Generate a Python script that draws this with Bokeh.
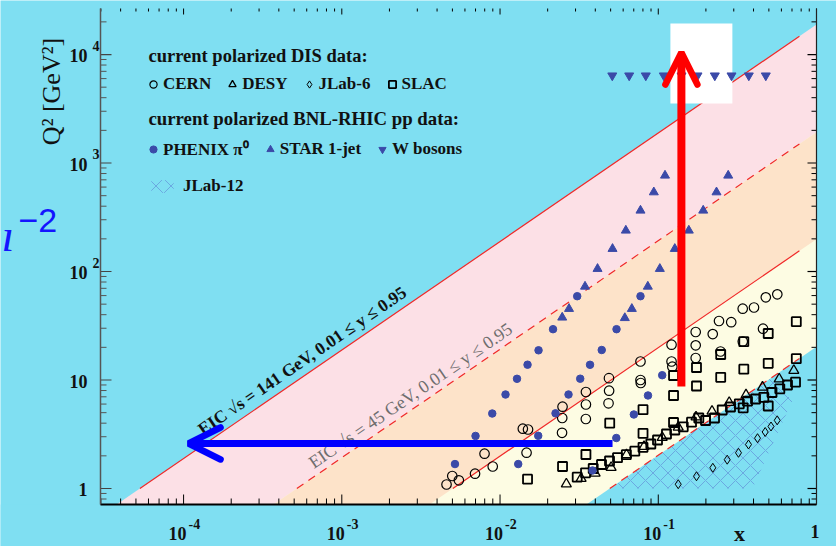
import math
import numpy as np
from bokeh.plotting import figure
from bokeh.models import (Range1d, Label, LabelSet, ColumnDataSource,
                          Legend, LegendItem, Arrow, OpenHead)
from bokeh.embed import file_html
from bokeh.resources import INLINE
from bokeh.core.properties import value

# ---------------- data ----------------
X_MIN, X_MAX = 2.985e-5, 1.0
Q2_MIN, Q2_MAX = 0.712, 26560.0

SQRT_S = [141.0, 45.0]          # EIC energies (GeV)
Y_LO, Y_HI = 0.01, 0.95         # inelasticity range
X_LINE_END = 0.78

cern_x = [0.00459, 0.00499, 0.00549, 0.00695, 0.00798, 0.00899, 0.01393, 0.01503, 0.01471,
          0.02465, 0.02472, 0.02483, 0.03485, 0.0349, 0.0349, 0.04849, 0.0489, 0.0488,
          0.0772, 0.0772, 0.0775, 0.1213, 0.1213, 0.1227, 0.1724, 0.1724, 0.1724, 0.2209,
          0.242, 0.2891, 0.2474, 0.3417, 0.4027, 0.4782, 0.5653, 0.4592, 0.342]
cern_q2 = [1.088, 1.304, 1.19, 1.369, 2.093, 1.595, 3.557, 3.498, 2.138,
           3.262, 4.465, 5.674, 4.37, 5.945, 7.75, 6.10, 7.97, 10.39,
           14.81, 10.0, 9.38, 21.15, 14.81, 13.26, 27.7, 20.88, 15.95, 26.5,
           34.98, 34.1, 18.31, 45.4, 46.6, 57.8, 61.6, 29.7, 22.63]

desy_x = [0.02624, 0.03254, 0.0399, 0.05035, 0.063, 0.08128, 0.1059, 0.1337, 0.1732,
          0.2186, 0.2807, 0.3585, 0.4558, 0.5812, 0.7189]
desy_q2 = [1.10, 1.236, 1.381, 1.562, 2.045, 2.438, 2.951, 3.665, 4.56,
           5.146, 6.203, 7.30, 8.582, 10.21, 12.23]

jlab6_x = [0.1337, 0.1744, 0.2212, 0.2727, 0.3214, 0.3718, 0.4239, 0.474, 0.5158, 0.5645]
jlab6_q2 = [1.095, 1.296, 1.552, 1.843, 2.133, 2.544, 2.908, 3.317, 3.728, 4.252]

slac_x = [0.01492, 0.02483, 0.0349, 0.04934, 0.0801, 0.0801, 0.1249, 0.1249, 0.1249, 0.1744,
          0.1744, 0.2481, 0.2481, 0.3472, 0.3472, 0.4953, 0.4953, 0.4953, 0.7453, 0.7453,
          0.03074, 0.0347, 0.0388, 0.04378, 0.04919, 0.05527, 0.06282, 0.07108, 0.0801,
          0.08974, 0.0989, 0.1127, 0.1272, 0.1438, 0.1622, 0.1804, 0.1989, 0.2267, 0.2536,
          0.2861, 0.3252, 0.3664, 0.4117, 0.4645, 0.5233, 0.5863, 0.6557, 0.7368, 0.3441]
slac_q2 = [1.218, 1.595, 2.058, 4.0, 5.324, 3.227, 11.0, 7.20, 4.057, 13.04,
           8.806, 17.18, 10.59, 22.54, 12.58, 26.83, 14.25, 5.759, 34.46, 15.71,
           1.271, 1.395, 1.529, 1.664, 1.793, 1.922, 2.049, 2.207, 2.397,
           2.571, 2.799, 3.179, 3.461, 3.705, 4.084, 4.465, 4.233, 4.465, 5.29,
           5.638, 6.034, 6.377, 6.68, 6.926, 7.67, 8.295, 8.993, 9.543, 5.544]

phenix_x = [0.00519, 0.0070, 0.00893, 0.01083, 0.0128, 0.01492, 0.01751, 0.02162, 0.03074,
            0.01303, 0.01743, 0.02242, 0.02709, 0.03212, 0.03704, 0.04392, 0.05447, 0.0772,
            0.03842, 0.0543, 0.0701, 0.0861, 0.1059]
phenix_q2 = [1.68, 3.05, 4.91, 7.35, 10.26, 13.84, 18.78, 29.4, 59.2,
             1.68, 3.06, 4.93, 7.35, 10.28, 13.81, 18.9, 29.4, 59.2,
             1.465, 2.92, 4.81, 7.20, 11.07]

star_x = [0.02472, 0.02729, 0.03444, 0.04132, 0.05139, 0.06237, 0.0772, 0.09374, 0.1103,
          0.06146, 0.06806, 0.0859, 0.1023, 0.1272, 0.156, 0.1923, 0.2334, 0.2767]
star_q2 = [37.7, 45.3, 72.7, 105.9, 161.9, 238.8, 364.9, 538.0, 767.0,
           37.3, 45.3, 72.7, 105.9, 161.9, 238.8, 364.9, 538.0, 767.0]

wbos_x = [0.0512, 0.0655, 0.0834, 0.1084, 0.1403, 0.177, 0.2277, 0.2903, 0.3735, 0.4782]
wbos_q2 = [6400, 6400, 6400, 6400, 6400, 6400, 6400, 6400, 6400, 6400]

jlab12_x = [0.0493, 0.512, 0.705, 0.394]
jlab12_q2 = [1.0, 10.37, 6.47, 1.0]

x_tick_vals = [1e-4, 1e-3, 1e-2, 1e-1]
x_tick_base = ["10", "10", "10", "10"]
x_tick_exp = ["-4", "-3", "-2", "-1"]
y_tick_vals = [1, 10, 100, 1000, 10000]
y_tick_base = ["1", "10", "10", "10", "10"]
y_tick_exp = ["", "", "2", "3", "4"]

# overlay annotations (data units)
red_arrow = dict(x=0.140, y0=8.7, y1=10430.0)
blue_arrow = dict(y=2.60, x0=0.0514, x1=1.075e-4)
white_box = dict(left=0.1193, right=0.294, bottom=3535.0, top=19300.0)
lab141_pos = (1.262e-4, 3.40)
lab45_pos = (6.345e-4, 1.68)

# ---------------- layout / styles ----------------
W, H = 836, 546
BOX_L, BOX_R, BOX_T, BOX_B = 100, 816, 8, 504     # inner plot box in page pixels
BG = "#7fdff2"
PINK = "#fce0e6"
PEACH = "#fde3c9"
CREAM = "#fdfce3"
RED = "#f02828"
MBLUE = "#3b4aa8"
FONT = "Liberation Serif"

ppd_x = (BOX_R - BOX_L) / math.log10(X_MAX / X_MIN)
ppd_y = (BOX_B - BOX_T) / math.log10(Q2_MAX / Q2_MIN)

def sx(x, px):   # shift a data x by px screen pixels
    return x * 10 ** (px / ppd_x)

def sy(y, px):   # shift a data y by px screen pixels (up positive)
    return y * 10 ** (px / ppd_y)

XR = (sx(X_MIN, -BOX_L), sx(X_MAX, W - BOX_R))
YR = (sy(Q2_MIN, -(H - BOX_B)), sy(Q2_MAX, BOX_T))

p = figure(width=W, height=H, x_axis_type="log", y_axis_type="log",
           x_range=Range1d(*XR), y_range=Range1d(*YR),
           x_axis_location=None, y_axis_location=None,
           output_backend="svg", toolbar_location=None,
           min_border=0)
p.background_fill_color = BG
p.border_fill_color = BG
p.outline_line_color = None
p.grid.visible = False

# ---------------- kinematic bands ----------------
xb = np.array([X_MIN, X_MAX])
s_hi, s_lo = SQRT_S[0] ** 2, SQRT_S[1] ** 2
p.varea(x=xb, y1=s_hi * Y_LO * xb, y2=s_hi * Y_HI * xb, fill_color=PINK)
p.varea(x=xb, y1=s_lo * Y_LO * xb, y2=s_lo * Y_HI * xb, fill_color=CREAM)
p.varea(x=xb, y1=s_hi * Y_LO * xb, y2=s_lo * Y_HI * xb, fill_color=PEACH)

r_j12 = p.patch(jlab12_x, jlab12_q2, fill_alpha=0, line_alpha=0,
                hatch_pattern="x", hatch_color="#4646c0", hatch_alpha=0.5,
                hatch_scale=15, hatch_weight=0.7)

for s, yy, dash in [(s_hi, Y_HI, "solid"), (s_hi, Y_LO, "solid"),
                    (s_lo, Y_HI, "8 6"), (s_lo, Y_LO, "8 6")]:
    x0 = 1.0 / (s * yy)
    xl = np.array([x0, X_LINE_END])
    p.line(xl, s * yy * xl, line_color=RED, line_width=1.2, line_dash=dash)

# mask below the plot box
p.quad(left=[XR[0]], right=[XR[1]], bottom=[YR[0]], top=[Q2_MIN],
       fill_color=BG, line_color=None)

# ---------------- axes (drawn by hand) ----------------
def log_ticks(lo, hi):
    majors, minors = [], []
    for n in range(math.floor(math.log10(lo)) - 1, math.ceil(math.log10(hi)) + 1):
        base = 10.0 ** n
        if lo * 0.9999 <= base <= hi * 1.0001:
            majors.append(base)
        for k in range(2, 10):
            v = k * base
            if lo < v < hi:
                minors.append(v)
    return majors, minors

xmaj, xmin_ = log_ticks(X_MIN, X_MAX)
ymaj, ymin_ = log_ticks(Q2_MIN, Q2_MAX)

def hticks(xs, ybase, length, color, width=1):
    p.segment(x0=xs, y0=[ybase] * len(xs), x1=xs, y1=[sy(ybase, length)] * len(xs),
              line_color=color, line_width=width)

def vticks(ys, xbase, length, color, width=1):
    p.segment(x0=[xbase] * len(ys), y0=ys, x1=[sx(xbase, length)] * len(ys), y1=ys,
              line_color=color, line_width=width)

hticks(xmaj, Q2_MIN, 10, "black")
hticks(xmin_, Q2_MIN, 6, "black")
hticks(xmaj, Q2_MAX, -6, "black")
hticks(xmin_, Q2_MAX, -3, "black")
vticks(ymaj, X_MIN, 11, "#444444", 1.2)
vticks(ymin_, X_MIN, 6, "#555555")
vticks(ymaj, X_MAX, -9, "black", 1.2)
vticks(ymin_, X_MAX, -5, "black")

p.segment(x0=[X_MIN], y0=[Q2_MIN], x1=[X_MAX], y1=[Q2_MIN], line_color="black", line_width=2)
p.segment(x0=[X_MIN], y0=[Q2_MIN], x1=[X_MIN], y1=[Q2_MAX], line_color="#555555", line_width=1.5)
p.segment(x0=[X_MAX], y0=[Q2_MIN], x1=[X_MAX], y1=[Q2_MAX], line_color="#222222", line_width=1.2)

# angle of Q2 ~ x lines on screen
ang = math.atan2(ppd_y, ppd_x)

p.add_layout(Label(x=lab141_pos[0], y=lab141_pos[1], angle=ang,
                   text="EIC \u221as = 141 GeV, 0.01 \u2264 y \u2264 0.95",
                   text_font=FONT, text_font_style="bold", text_font_size="17.5px",
                   text_color="#111111", text_align="left", text_baseline="alphabetic"))
p.add_layout(Label(x=lab45_pos[0], y=lab45_pos[1], angle=ang,
                   text="EIC \u221as = 45 GeV, 0.01 \u2264 y \u2264 0.95",
                   text_font=FONT, text_font_style="normal", text_font_size="18px",
                   text_color="#6e6e6e", text_align="left", text_baseline="alphabetic"))

p.quad(left=[white_box["left"]], right=[white_box["right"]],
       bottom=[white_box["bottom"]], top=[white_box["top"]],
       fill_color="white", line_color=None)

# ---------------- data markers ----------------
r_j6 = p.scatter(jlab6_x, jlab6_q2, marker="diamond", size=9, fill_color=None,
                 line_color="black", line_width=1.0)
r_desy = p.scatter(desy_x, desy_q2, marker="triangle", size=10, fill_color=None,
                   line_color="black", line_width=1.3)
r_cern = p.scatter(cern_x, cern_q2, marker="circle", size=9.5, fill_color=None,
                   line_color="black", line_width=1.2)
r_slac = p.scatter(slac_x, slac_q2, marker="square", size=9, fill_color=None,
                   line_color="black", line_width=1.8)
r_phx = p.scatter(phenix_x, phenix_q2, marker="circle", size=7.5, fill_color=MBLUE,
                  line_color=MBLUE)
r_star = p.scatter(star_x, star_q2, marker="triangle", size=9, fill_color=MBLUE,
                   line_color=MBLUE)
r_w = p.scatter(wbos_x, wbos_q2, marker="inverted_triangle", size=9, fill_color=MBLUE,
                line_color=MBLUE)

# ---------------- arrows ----------------
p.add_layout(Arrow(end=OpenHead(size=32, line_width=6.5, line_color="#ff0000", line_cap="round"),
                   x_start=red_arrow["x"], y_start=red_arrow["y0"],
                   x_end=red_arrow["x"], y_end=red_arrow["y1"],
                   line_width=8, line_color="#ff0000"))
p.add_layout(Arrow(end=OpenHead(size=32, line_width=6.5, line_color="#0000ff", line_cap="round"),
                   x_start=blue_arrow["x0"], y_start=blue_arrow["y"],
                   x_end=blue_arrow["x1"], y_end=blue_arrow["y"],
                   line_width=7, line_color="#0000ff"))

# ---------------- legend ----------------
def mk_legend(items, loc, gw=18, gh=18, standoff=1):
    lg = Legend(items=items, orientation="horizontal", location=loc,
                glyph_width=gw, glyph_height=gh, label_height=gh, label_standoff=standoff,
                spacing=12, padding=0, margin=0, border_line_color=None,
                background_fill_alpha=0, label_text_font=FONT,
                label_text_font_style="bold", label_text_font_size="17px",
                label_text_color="#111111")
    p.add_layout(lg)
    return lg

mk_legend([LegendItem(label="CERN", renderers=[r_cern]),
           LegendItem(label="DESY", renderers=[r_desy]),
           LegendItem(label="JLab-6", renderers=[r_j6]),
           LegendItem(label="SLAC", renderers=[r_slac])], (144, H - 94))
mk_legend([LegendItem(label="PHENIX \u03c0\u2070", renderers=[r_phx]),
           LegendItem(label="STAR 1-jet", renderers=[r_star]),
           LegendItem(label="W bosons", renderers=[r_w])], (144, H - 160))
mk_legend([LegendItem(label="JLab-12", renderers=[r_j12])], (148, H - 196),
          gw=28, gh=16, standoff=7)

for txt, yy, fs in [("current polarized DIS data:", 55, "18.5px"),
                    ("current polarized BNL-RHIC pp data:", 118, "18.8px")]:
    p.add_layout(Label(x=148, y=H - yy, x_units="screen", y_units="screen", text=txt,
                       text_font=FONT, text_font_style="bold", text_font_size=fs,
                       text_color="#111111", text_baseline="middle"))

# ---------------- tick labels / axis titles ----------------
xsrc = ColumnDataSource(dict(x=x_tick_vals, y=[Q2_MIN] * len(x_tick_vals),
                             base=x_tick_base, exp=x_tick_exp))
p.add_layout(LabelSet(x="x", y="y", text="base", source=xsrc, x_offset=3, y_offset=-29,
                      text_align="right", text_baseline="middle",
                      text_font=value(FONT), text_font_style="bold",
                      text_font_size="18px", text_color="#111111"))
p.add_layout(LabelSet(x="x", y="y", text="exp", source=xsrc, x_offset=5, y_offset=-19,
                      text_align="left", text_baseline="middle",
                      text_font=value(FONT), text_font_style="bold",
                      text_font_size="14px", text_color="#111111"))
p.add_layout(Label(x=X_MAX, y=Q2_MIN, x_offset=-1.5, y_offset=-27, text="1",
                   text_align="center", text_baseline="middle", text_font=FONT,
                   text_font_style="bold", text_font_size="18px", text_color="#111111"))

ysrc = ColumnDataSource(dict(x=[X_MIN] * len(y_tick_vals), y=y_tick_vals,
                             base=y_tick_base, exp=y_tick_exp))
p.add_layout(LabelSet(x="x", y="y", text="base", source=ysrc, x_offset=-13,
                      y_offset=-1, text_align="right", text_baseline="middle",
                      text_font=value(FONT), text_font_style="bold",
                      text_font_size="18px", text_color="#111111"))
p.add_layout(LabelSet(x="x", y="y", text="exp", source=ysrc, x_offset=-8,
                      y_offset=9, text_align="left", text_baseline="middle",
                      text_font=value(FONT), text_font_style="bold",
                      text_font_size="14px", text_color="#111111"))

p.add_layout(Label(x=51, y=H - 91, x_units="screen", y_units="screen", angle=math.pi / 2,
                   text="Q\u00b2 [GeV\u00b2]", text_align="center", text_baseline="middle",
                   text_font=FONT, text_font_size="26px", text_color="#111111"))
p.add_layout(Label(x=739, y=H - 533, x_units="screen", y_units="screen", text="x",
                   text_align="center", text_baseline="middle", text_font=FONT,
                   text_font_style="bold", text_font_size="22px", text_color="#111111"))

# stray slide text at the far left
p.add_layout(Label(x=1, y=H - 235, x_units="screen", y_units="screen", text="\u0131",
                   text_align="left", text_baseline="alphabetic", text_font=FONT,
                   text_font_style="italic", text_font_size="46px", text_color="#1414ff"))
p.add_layout(Label(x=18, y=H - 220, x_units="screen", y_units="screen", text="\u22122",
                   text_align="left", text_baseline="alphabetic", text_font="Liberation Sans",
                   text_font_size="34px", text_color="#1414ff"))

open("out.html", "w").write(file_html(p, INLINE))
